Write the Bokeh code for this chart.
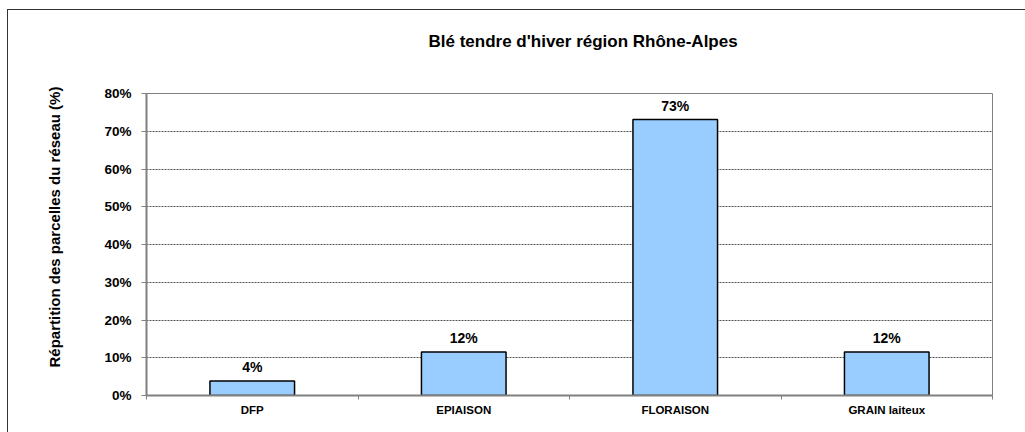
from bokeh.plotting import figure
from bokeh.models import (FactorRange, Range1d, LinearAxis, CategoricalAxis, FixedTicker,
                          NumeralTickFormatter, Title, ColumnDataSource)
from bokeh.core.properties import value
from bokeh.embed import file_html
from bokeh.resources import INLINE

# ---- data ----
categories = ["DFP", "EPIAISON", "FLORAISON", "GRAIN laiteux"]
shares = [0.0385, 0.1154, 0.7308, 0.1154]
y_ticks = [0.0, 0.1, 0.2, 0.3, 0.4, 0.5, 0.6, 0.7, 0.8]
title_text = "Blé tendre d'hiver région Rhône-Alpes"
y_label_text = "Répartition des parcelles du réseau (%)"

FONT = "Liberation Sans"
GRAY = "#808080"

labels = [f"{v:.0%}" for v in shares]
src = ColumnDataSource(dict(cat=categories, val=shares, lab=labels))

p = figure(width=1018, height=423, output_backend="svg", toolbar_location=None,
           x_range=FactorRange(*categories), y_range=Range1d(0, 0.8),
           x_axis_location=None, y_axis_location=None,
           min_border_left=138, min_border_right=34, min_border_top=83, min_border_bottom=38)
p.styles = {"margin-left": "7px", "margin-top": "9px",
            "border-left": "1px solid #333333", "border-top": "1px solid #333333"}
p.background_fill_color = "white"
p.border_fill_color = "white"
p.outline_line_color = GRAY
p.outline_line_width = 1
p.title = None

# spacer between frame and title, then the title itself
p.add_layout(Title(text=" ", standoff=30, text_font=FONT, text_font_size="10px"), "above")
p.add_layout(Title(text=title_text, align="left", offset=282, standoff=0, vertical_align="bottom",
                   text_font=FONT, text_font_style="bold", text_font_size="17px",
                   text_color="black"), "above")

# y axis
yax = LinearAxis(ticker=FixedTicker(ticks=y_ticks), formatter=NumeralTickFormatter(format="0%"))
yax.axis_line_color = GRAY
yax.axis_line_width = 2
yax.major_tick_line_color = GRAY
yax.major_tick_out = 5
yax.major_tick_in = 0
yax.minor_tick_line_color = None
yax.major_label_text_font = FONT
yax.major_label_text_font_style = "bold"
yax.major_label_text_font_size = "13.5px"
yax.major_label_text_color = "black"
yax.major_label_standoff = 10
p.add_layout(yax, "left")

# y axis title (as a side title, so it can be shifted along the axis)
ytitle = Title(text=y_label_text, align="left", offset=28, standoff=74, vertical_align="top",
               text_font=FONT, text_font_style="bold", text_font_size="15px", text_color="black")
p.add_layout(ytitle, "left")

# x axis tick marks between categories (synthetic category coordinates 0..n)
xt = LinearAxis(ticker=FixedTicker(ticks=list(range(len(categories) + 1))))
xt.axis_line_color = GRAY
xt.axis_line_width = 2
xt.major_tick_line_color = GRAY
xt.major_tick_out = 4
xt.major_tick_in = 0
xt.minor_tick_line_color = None
xt.major_label_overrides = {i: "" for i in range(len(categories) + 1)}
xt.major_label_standoff = 0
p.add_layout(xt, "below")

# category labels
xc = CategoricalAxis()
xc.axis_line_color = None
xc.major_tick_line_color = None
xc.major_label_text_font = FONT
xc.major_label_text_font_style = "bold"
xc.major_label_text_font_size = "11.5px"
xc.major_label_text_color = "black"
xc.major_label_standoff = -2
p.add_layout(xc, "below")

# grid
p.ygrid.ticker = FixedTicker(ticks=y_ticks)
p.ygrid.grid_line_color = "#555555"
p.ygrid.grid_line_dash = "2 1"
p.ygrid.grid_line_width = 1
p.xgrid.grid_line_color = None

# bars
p.vbar(x="cat", top="val", width=0.4, source=src, fill_color="#99CCFF",
       line_color="black", line_width=1.5)

# value labels
p.text(x="cat", y="val", text="lab", source=src, text_align="center", text_baseline="bottom",
       y_offset=-6, text_font=value(FONT), text_font_style="bold", text_font_size="14px",
       text_color="black")

open("out.html", "w").write(file_html(p, INLINE))
